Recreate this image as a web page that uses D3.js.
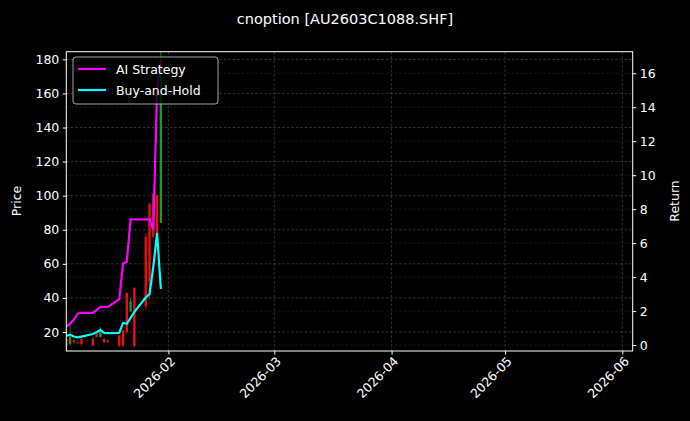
<!DOCTYPE html><html><head><script src="https://cdn.jsdelivr.net/npm/d3@7"></script>
<style>body{margin:0;background:#000}</style></head><body><svg id="c" width="690" height="421"></svg>
<script>
const dates=["2026-01-05","2026-01-06","2026-01-07","2026-01-08","2026-01-09","2026-01-12","2026-01-13","2026-01-14","2026-01-15","2026-01-16","2026-01-19","2026-01-20","2026-01-21","2026-01-22","2026-01-23","2026-01-26","2026-01-27","2026-01-28","2026-01-29","2026-01-30"];
const openP=[16,13,15,14,16,16,19,17,16,15,18,21,43,32,46,76,95,101,100,84];
const highP=[18,24,16,15,17,17,20,23,16.5,15.5,18,21,43,40,46,78,96,102,101,185];
const lowP=[9,12,13,13,12,12,17,17,13.5,14,11,11,19,32,11,33,39,75,77,84];
const closeP=[12,17,14,13.5,13,12,17,21,14,14,12,12,20,38,12,35,50,76,78,175];
const aiRet=[1.1,1.25,1.5,1.85,1.9,1.9,2.05,2.25,2.25,2.25,2.7,4.8,4.9,7.4,7.4,7.4,7.4,6.8,15.0,16.8];
const bhRet=[0.55,0.6,0.5,0.45,0.5,0.65,0.75,0.9,0.72,0.7,0.72,1.3,1.25,1.6,1.95,2.8,3.0,4.6,6.6,3.3];
const priceTicks=[20,40,60,80,100,120,140,160,180];
const retTicks=[0,2,4,6,8,10,12,14,16];
const dateTicks=["2026-02-01","2026-03-01","2026-04-01","2026-05-01","2026-06-01"];
const P=d3.timeParse("%Y-%m-%d");
const svg=d3.select("#c");
svg.append("rect").attr("width",690).attr("height",421).attr("fill","#000");
const L=66.3,R=632.7,T=51.7,B=351;
const x=d3.scaleTime().domain([P("2026-01-05"),new Date(2026,5,3,18)]).range([L,R]);
const yP=d3.scaleLinear().domain([8.85,184.5]).range([B,T]);
const yR=d3.scaleLinear().domain([-0.35,17.27]).range([B,T]);
const font="DejaVu Sans";
const g=svg.append("g");
g.selectAll(".gx").data(dateTicks).join("line").attr("x1",d=>x(P(d))).attr("x2",d=>x(P(d))).attr("y1",T).attr("y2",B).attr("stroke","#555").attr("stroke-width",0.6).attr("stroke-dasharray","2.5,2");
g.selectAll(".gy").data(priceTicks).join("line").attr("x1",L).attr("x2",R).attr("y1",d=>yP(d)).attr("y2",d=>yP(d)).attr("stroke","#555").attr("stroke-width",0.6).attr("stroke-dasharray","2.5,2");
g.selectAll(".gr").data(retTicks).join("line").attr("x1",L).attr("x2",R).attr("y1",d=>yR(d)).attr("y2",d=>yR(d)).attr("stroke","#333").attr("stroke-width",0.5).attr("stroke-dasharray","2.5,2");
const cd=dates.map((d,i)=>({d:P(d),o:openP[i],h:highP[i],l:lowP[i],c:closeP[i]}));
svg.append("clipPath").attr("id","cp").append("rect").attr("x",L).attr("y",T).attr("width",R-L).attr("height",B-T);
const cg=svg.append("g").attr("clip-path","url(#cp)");
cd.forEach(c=>{const col=c.c>=c.o?"#1a9a1a":"#e81010";
 cg.append("line").attr("x1",x(c.d)).attr("x2",x(c.d)).attr("y1",yP(c.h)).attr("y2",yP(c.l)).attr("stroke",col).attr("stroke-width",0.8);
 cg.append("rect").attr("x",x(c.d)-1.2).attr("width",2.4).attr("y",yP(Math.max(c.o,c.c))).attr("height",Math.max(1,Math.abs(yP(c.o)-yP(c.c)))).attr("fill",col);});
const line=(arr)=>d3.line().x((v,i)=>x(P(dates[i]))).y(v=>yR(v))(arr);
cg.append("path").attr("d",line(aiRet)).attr("fill","none").attr("stroke","#ff00ff").attr("stroke-width",2.2);
cg.append("path").attr("d",line(bhRet)).attr("fill","none").attr("stroke","#00ffff").attr("stroke-width",2.2);
svg.append("rect").attr("x",L).attr("y",T).attr("width",R-L).attr("height",B-T).attr("fill","none").attr("stroke","#fff").attr("stroke-width",1);
const ax=(sel)=>{sel.selectAll("text").attr("fill","#fff").attr("font-family",font).attr("font-size",12.5);sel.selectAll("line").attr("stroke","#fff");sel.select(".domain").remove();};
svg.append("g").attr("transform",`translate(${L},0)`).call(d3.axisLeft(yP).tickValues(priceTicks).tickSize(3.5).tickPadding(3.5)).call(ax);
svg.append("g").attr("transform",`translate(${R},0)`).call(d3.axisRight(yR).tickValues(retTicks).tickSize(3.5).tickPadding(3.5)).call(ax);
const xa=svg.append("g").attr("transform",`translate(0,${B})`).call(d3.axisBottom(x).tickValues(dateTicks.map(P)).tickFormat(d3.timeFormat("%Y-%m")).tickSize(3.5)).call(ax);
xa.selectAll("text").attr("text-anchor","end").attr("transform","translate(4,8) rotate(-45)").attr("dy","0.35em").attr("y",0);
svg.append("text").attr("x",345).attr("y",24).attr("text-anchor","middle").attr("fill","#fff").attr("font-family",font).attr("font-size",14.5).text("cnoption [AU2603C1088.SHF]");
svg.append("text").attr("transform","translate(21,201) rotate(-90)").attr("text-anchor","middle").attr("fill","#fff").attr("font-family",font).attr("font-size",12.5).text("Price");
svg.append("text").attr("transform","translate(679,201) rotate(-90)").attr("text-anchor","middle").attr("fill","#fff").attr("font-family",font).attr("font-size",12.5).text("Return");
const lg=svg.append("g").attr("transform","translate(73,57)");
lg.append("rect").attr("width",145).attr("height",47).attr("rx",3).attr("fill","#000").attr("fill-opacity",0.8).attr("stroke","#ccc").attr("stroke-width",0.8);
[["AI Strategy","#ff00ff"],["Buy-and-Hold","#00ffff"]].forEach((s,i)=>{
 lg.append("line").attr("x1",5).attr("x2",33).attr("y1",12+i*21).attr("y2",12+i*21).attr("stroke",s[1]).attr("stroke-width",2.2);
 lg.append("text").attr("x",43).attr("y",16.5+i*21).attr("fill","#fff").attr("font-family",font).attr("font-size",12.5).text(s[0]);});
</script></body></html>
